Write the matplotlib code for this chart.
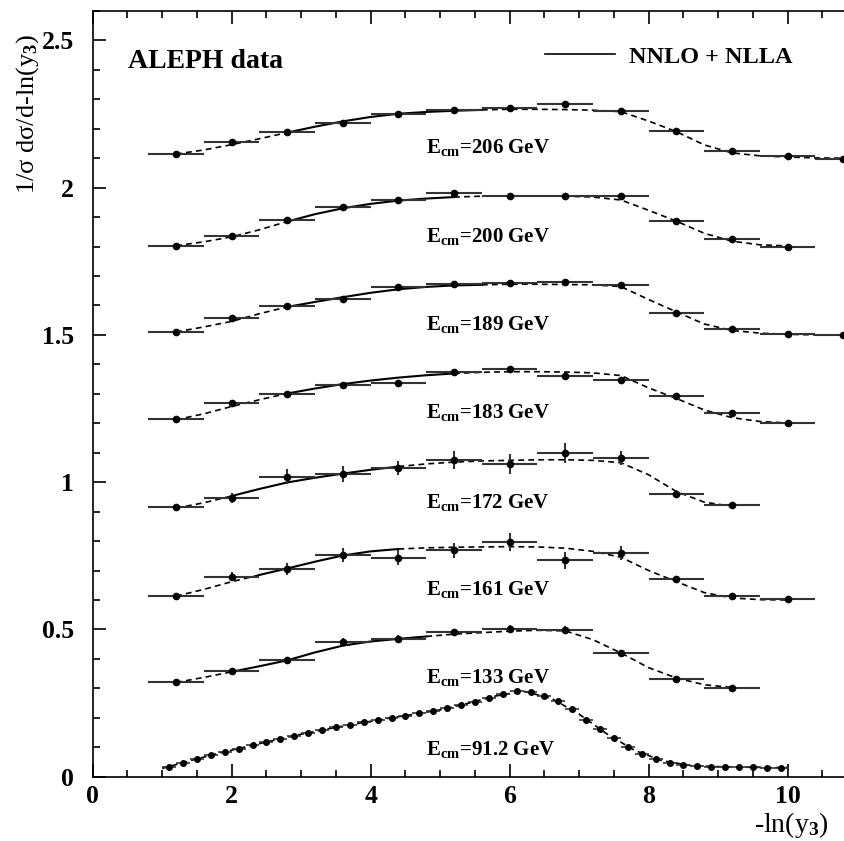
import numpy as np
import matplotlib
matplotlib.use("Agg")
import matplotlib.pyplot as plt
from matplotlib.lines import Line2D
from matplotlib.ticker import MultipleLocator, FixedLocator, FixedFormatter

plt.rcParams["font.family"] = ["Liberation Serif", "DejaVu Serif"]
plt.rcParams["font.weight"] = "bold"
plt.rcParams["mathtext.fontset"] = "custom"
plt.rcParams["mathtext.rm"] = "Liberation Serif:bold"
plt.rcParams["mathtext.bf"] = "Liberation Serif:bold"
plt.rcParams["mathtext.it"] = "Liberation Serif:bold:italic"

# ---------------------------------------------------------------- data
# LEP2 bins: width 0.8 in -ln(y3), centres below
lep2_centres = [1.2, 2.0, 2.8, 3.6, 4.4, 5.2, 6.0, 6.8, 7.6, 8.4, 9.2, 10.0, 10.8]
lep2_halfwidth = 0.4

# theory knots for the LEP2 curves
theory_x = [1.2, 1.6, 2.0, 2.4, 2.8, 3.2, 3.6, 4.0, 4.4, 4.8, 5.2, 5.6, 6.0,
            6.4, 6.8, 7.2, 7.6, 8.0, 8.4, 8.8, 9.2, 9.6, 10.0, 10.4, 10.8]

energies = ["206", "200", "189", "183", "172", "161", "133"]

data_206 = [2.114, 2.154, 2.190, 2.219, 2.251, 2.262, 2.270, 2.285, 2.261, 2.193, 2.126, 2.106, 2.098]
data_200 = [1.803, 1.837, 1.889, 1.934, 1.959, 1.982, 1.973, 1.970, 1.973, 1.888, 1.825, 1.800]
data_189 = [1.510, 1.557, 1.597, 1.622, 1.662, 1.674, 1.676, 1.680, 1.670, 1.576, 1.520, 1.502, 1.498]
data_183 = [1.214, 1.270, 1.300, 1.329, 1.336, 1.375, 1.384, 1.361, 1.347, 1.291, 1.234, 1.200]
data_172 = [0.914, 0.946, 1.019, 1.027, 1.048, 1.076, 1.061, 1.098, 1.082, 0.959, 0.923]
data_161 = [0.615, 0.679, 0.704, 0.753, 0.744, 0.768, 0.796, 0.734, 0.759, 0.671, 0.614, 0.603]
data_133 = [0.321, 0.359, 0.396, 0.458, 0.468, 0.490, 0.501, 0.498, 0.419, 0.332, 0.302]

err_206 = [0.004, 0.004, 0.005, 0.005, 0.005, 0.006, 0.006, 0.006, 0.006, 0.005, 0.004, 0.003, 0.003]
err_200 = [0.004, 0.004, 0.005, 0.005, 0.005, 0.006, 0.006, 0.006, 0.006, 0.005, 0.004, 0.003]
err_189 = [0.003, 0.004, 0.004, 0.004, 0.005, 0.005, 0.005, 0.005, 0.005, 0.004, 0.003, 0.003, 0.002]
err_183 = [0.004, 0.006, 0.007, 0.007, 0.008, 0.008, 0.009, 0.009, 0.008, 0.006, 0.005, 0.004]
err_172 = [0.006, 0.018, 0.025, 0.027, 0.025, 0.030, 0.033, 0.034, 0.024, 0.014, 0.008]
err_161 = [0.006, 0.016, 0.020, 0.024, 0.025, 0.026, 0.030, 0.030, 0.025, 0.012, 0.008, 0.005]
err_133 = [0.005, 0.008, 0.010, 0.012, 0.012, 0.012, 0.013, 0.012, 0.010, 0.007, 0.005]

theory_206 = [2.114, 2.128, 2.146, 2.166, 2.187, 2.207, 2.225, 2.240, 2.251, 2.257, 2.261, 2.264, 2.266,
              2.266, 2.265, 2.263, 2.258, 2.226, 2.190, 2.145, 2.118, 2.108, 2.104, 2.101, 2.100]
theory_200 = [1.803, 1.816, 1.833, 1.857, 1.885, 1.910, 1.930, 1.945, 1.956, 1.963, 1.968, 1.971, 1.972,
              1.972, 1.971, 1.968, 1.958, 1.923, 1.886, 1.845, 1.818, 1.806, 1.802]
theory_189 = [1.510, 1.527, 1.546, 1.572, 1.595, 1.612, 1.628, 1.643, 1.655, 1.663, 1.668, 1.670, 1.672,
              1.672, 1.671, 1.670, 1.664, 1.620, 1.578, 1.537, 1.515, 1.506, 1.502, 1.500, 1.499]
theory_183 = [1.212, 1.232, 1.257, 1.280, 1.301, 1.318, 1.333, 1.345, 1.355, 1.363, 1.369, 1.373, 1.375,
              1.375, 1.374, 1.371, 1.362, 1.320, 1.284, 1.245, 1.219, 1.206, 1.201]
theory_172 = [0.912, 0.930, 0.953, 0.977, 0.999, 1.015, 1.029, 1.042, 1.053, 1.062, 1.068, 1.072, 1.074,
              1.076, 1.076, 1.074, 1.066, 1.025, 0.968, 0.932, 0.918]
theory_161 = [0.613, 0.636, 0.662, 0.685, 0.707, 0.730, 0.751, 0.765, 0.773, 0.777, 0.779, 0.780, 0.781,
              0.780, 0.776, 0.765, 0.745, 0.700, 0.662, 0.625, 0.607, 0.601, 0.600]
theory_133 = [0.320, 0.337, 0.356, 0.375, 0.395, 0.422, 0.445, 0.459, 0.468, 0.476, 0.484, 0.489, 0.494,
              0.497, 0.495, 0.465, 0.420, 0.370, 0.335, 0.312, 0.303]

# fit ranges (theory drawn solid inside, dashed outside)
fit_lo = [2.8, 2.8, 2.8, 2.8, 2.0, 2.4, 2.0]
fit_hi = [5.6, 5.2, 5.6, 5.2, 4.4, 4.4, 4.8]

# label baselines for each energy
label_y = [2.117, 1.817, 1.517, 1.217, 0.912, 0.617, 0.317]

# Z peak: bins of width 0.2
z_centres = [1.1, 1.3, 1.5, 1.7, 1.9, 2.1, 2.3, 2.5, 2.7, 2.9, 3.1, 3.3, 3.5, 3.7, 3.9,
             4.1, 4.3, 4.5, 4.7, 4.9, 5.1, 5.3, 5.5, 5.7, 5.9, 6.1, 6.3, 6.5, 6.7, 6.9,
             7.1, 7.3, 7.5, 7.7, 7.9, 8.1, 8.3, 8.5, 8.7, 8.9, 9.1, 9.3, 9.5, 9.7, 9.9]
data_912 = [0.034, 0.048, 0.060, 0.073, 0.084, 0.095, 0.106, 0.117, 0.128, 0.139, 0.149, 0.158, 0.167,
            0.175, 0.184, 0.192, 0.200, 0.207, 0.215, 0.223, 0.232, 0.243, 0.255, 0.267, 0.281,
            0.290, 0.286, 0.275, 0.256, 0.229, 0.194, 0.161, 0.130, 0.102, 0.078, 0.060, 0.048,
            0.040, 0.036, 0.034, 0.033, 0.032, 0.032, 0.031, 0.031]
theory_912_x = [1.0, 1.4, 1.8, 2.2, 2.6, 3.0, 3.4, 3.8, 4.2, 4.6, 5.0, 5.4, 5.8, 6.2, 6.6,
                7.0, 7.4, 7.8, 8.2, 8.6, 9.0, 9.4, 9.8, 10.0]
theory_912 = [0.028, 0.054, 0.079, 0.101, 0.123, 0.144, 0.163, 0.180, 0.196, 0.211, 0.227, 0.249,
              0.274, 0.290, 0.266, 0.212, 0.145, 0.089, 0.054, 0.038, 0.034, 0.032, 0.031, 0.031]
label_y_912 = 0.074

xtick_values = [0, 2, 4, 6, 8, 10]
ytick_values = [0, 0.5, 1, 1.5, 2, 2.5]
ytick_labels = ["0", "0.5", "1", "1.5", "2", "2.5"]

# ---------------------------------------------------------------- figure
fig = plt.figure(figsize=(8.45, 8.41), dpi=100)
ax = fig.add_axes([0.1097, 0.0765, 0.9047, 0.9105])
ax.set_xlim(0, 11)
ax.set_ylim(0, 2.6)

dash = (0, (3.5, 2.5))

lep2_data = [data_206, data_200, data_189, data_183, data_172, data_161, data_133]
lep2_err = [err_206, err_200, err_189, err_183, err_172, err_161, err_133]
lep2_theory = [theory_206, theory_200, theory_189, theory_183, theory_172, theory_161, theory_133]

for e, d, er, th, lo, hi, ly in zip(energies, lep2_data, lep2_err, lep2_theory,
                                    fit_lo, fit_hi, label_y):
    tx = np.array(theory_x[:len(th)])
    ty = np.array(th)
    inside = (tx >= lo - 1e-9) & (tx <= hi + 1e-9)
    below = tx <= lo + 1e-9
    above = tx >= hi - 1e-9
    ax.plot(tx[below], ty[below], color="k", lw=1.2, ls=dash, zorder=2)
    ax.plot(tx[above], ty[above], color="k", lw=1.2, ls=dash, zorder=2)
    ax.plot(tx[inside], ty[inside], color="k", lw=1.5, zorder=2)

    xc = lep2_centres[:len(d)]
    ax.errorbar(xc, d, xerr=lep2_halfwidth, yerr=er, fmt="o", ms=4.5,
                color="k", ecolor="0.2", elinewidth=1.5, capsize=0, zorder=3)
    ax.text(4.8, ly, r"E$_\mathrm{cm}$=" + e + " GeV", fontsize=15, va="baseline")

# Z peak
ax.plot(theory_912_x, theory_912, color="k", lw=1.2, ls=dash, zorder=2)
ax.errorbar(z_centres, data_912, xerr=0.1, yerr=0.002, fmt="o", ms=4,
            color="k", ecolor="0.2", elinewidth=1.2, capsize=0, zorder=3)
ax.text(4.8, label_y_912, r"E$_\mathrm{cm}$=91.2 GeV", fontsize=15, va="baseline")

ax.text(0.51, 2.406, "ALEPH data", fontsize=20, va="baseline")

handle = Line2D([], [], color="k", lw=1.2)
ax.legend(handles=[handle], labels=["NNLO + NLLA"], loc="center left",
          bbox_to_anchor=(0.5916, 0.940), frameon=False,
          prop={"size": 17.5, "weight": "bold"},
          handlelength=2.9, handletextpad=0.55, borderpad=0, borderaxespad=0)

# axes styling
ax.xaxis.set_major_locator(FixedLocator(xtick_values))
ax.xaxis.set_minor_locator(MultipleLocator(0.5))
ax.yaxis.set_major_locator(FixedLocator(ytick_values))
ax.yaxis.set_major_formatter(FixedFormatter(ytick_labels))
ax.yaxis.set_minor_locator(MultipleLocator(0.1))
ax.tick_params(which="both", direction="in", top=True, right=True, width=1.2)
ax.tick_params(which="major", length=9.4)
ax.tick_params(which="minor", length=4.8)
ax.tick_params(axis="x", which="major", labelsize=18.5, pad=6)
ax.tick_params(axis="y", which="major", labelsize=18.5, pad=13.5)
for s in ax.spines.values():
    s.set_linewidth(1.2)

ax.set_ylabel(r"1/σ dσ/d-ln(y$_\mathrm{3}$)", fontsize=19)
ax.yaxis.label.set_va("center")
ax.yaxis.set_label_coords(-0.0855, 0.866)
ax.set_xlabel(r"-ln(y$_\mathrm{3}$)", fontsize=20, ha="right")
ax.xaxis.set_label_coords(0.962, -0.044)

fig.savefig("out.png", dpi=100)
